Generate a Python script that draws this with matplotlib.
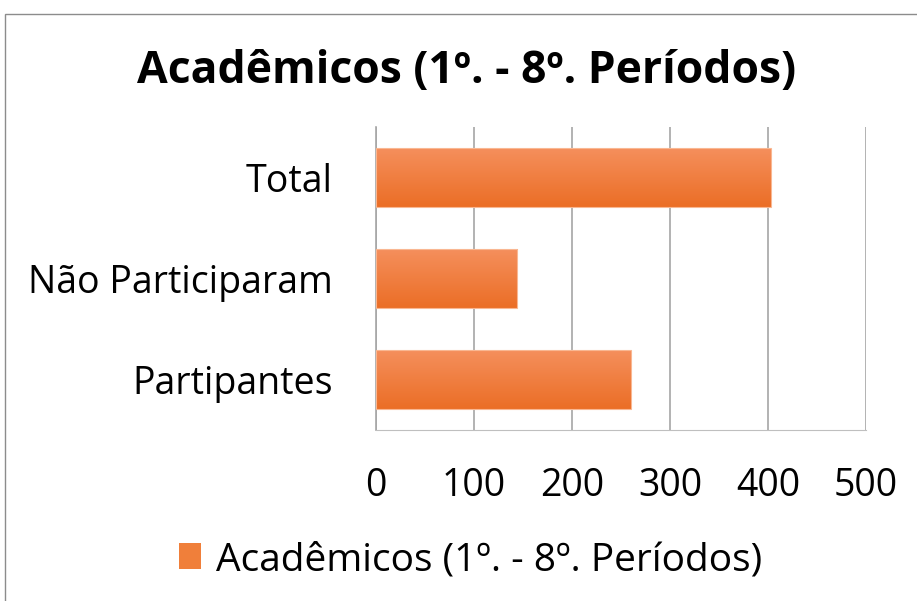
import numpy as np
import matplotlib
matplotlib.use('Agg')
import matplotlib.pyplot as plt
from matplotlib.patches import Rectangle, Patch

plt.rcParams['font.family'] = ['Open Sans', 'DejaVu Sans']

title = 'Acadêmicos (1º. - 8º. Períodos)'
categories = ['Partipantes', 'Não Participaram', 'Total']
values = [260, 144, 403]
xticks = [0, 100, 200, 300, 400, 500]

top_col = np.array([0xF5, 0x8F, 0x5C]) / 255
bot_col = np.array([0xEB, 0x6E, 0x26]) / 255

fig = plt.figure(figsize=(9.17, 6.01), dpi=100)
# outer chart border
fig.patches.append(Rectangle((5 / 917, -0.05), 1.1, 1 - 14 / 601 + 0.05,
                             transform=fig.transFigure, fill=False,
                             edgecolor='#8c8c8c', linewidth=1))

ax = fig.add_axes([376 / 917, 1 - 430 / 601, 490 / 917, 303 / 601])
ypos = np.arange(len(categories))
bars = ax.barh(ypos, values, height=0.58, color='none', zorder=3)

# vertical gradient inside each bar
grad = np.linspace(0, 1, 64)[:, None, None]
img = top_col * (1 - grad) + bot_col * grad
for b in bars:
    x0, y0 = b.get_x(), b.get_y()
    w, h = b.get_width(), b.get_height()
    im = ax.imshow(img, extent=[x0, x0 + w, y0, y0 + h], aspect='auto',
                   origin='upper', zorder=3)
    im.set_clip_path(b)
    ax.add_patch(Rectangle((x0, y0), w, h, fill=False, edgecolor='#f9b792',
                           linewidth=0.8, zorder=4))

ax.set_xlim(0, 500)
ax.set_ylim(-0.5, 2.5)
ax.set_xticks(xticks)
ax.set_yticks(ypos)
ax.set_yticklabels(categories)
ax.tick_params(axis='both', length=0, labelsize=27, colors='black')
ax.tick_params(axis='x', pad=27)
ax.tick_params(axis='y', pad=31)
ax.grid(axis='x', color='#a6a6a6', linewidth=1.2, zorder=0)
ax.set_axisbelow(True)
for s in ['top', 'right']:
    ax.spines[s].set_visible(False)
ax.spines['left'].set_color('#a6a6a6')
ax.spines['bottom'].set_color('#bfbfbf')
ax.spines['left'].set_linewidth(1.2)

fig.text(467 / 917, 1 - 72 / 601, title, ha='center', va='center',
         fontsize=32, fontweight='bold')

fig.legend(handles=[Patch(facecolor='#f07f3a', edgecolor='none')],
           labels=[title], loc='center', bbox_to_anchor=(471 / 917, 1 - 560 / 601),
           frameon=False, fontsize=28, handlelength=0.55, handleheight=0.65,
           handletextpad=0.4)

fig.savefig('out.png', dpi=100, facecolor='white')
